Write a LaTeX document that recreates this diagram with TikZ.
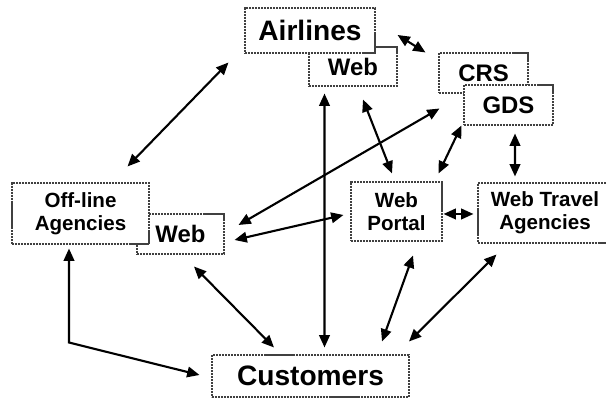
\documentclass[tikz,border=0pt]{standalone}
\usepackage{fontspec}
\setmainfont{Liberation Sans}
\usetikzlibrary{arrows.meta}

\newcommand{\labbig}{\bfseries\fontsize{16}{18}\selectfont}
\newcommand{\labmid}{\bfseries\fontsize{13.6}{15}\selectfont}
\newcommand{\labtwo}{\bfseries\fontsize{11.7}{13.1}\selectfont}

\begin{document}
\begin{tikzpicture}[
    box/.style={draw=black!75, fill=white, line width=0.6pt,
      dash pattern=on 1.2pt off 0.5pt, inner sep=0pt, align=center},
    link/.style={<->, line width=1.2pt, >={Triangle[length=7pt,width=6pt]}}
  ]

  \clip (0,0) rectangle (12.12,7.98);

  % back boxes first, the front ones cover them
  \node[box, minimum width=1.76cm, minimum height=0.78cm, font=\labmid] (airweb) at (7.06, 6.65) {Web};
  \node[box, minimum width=2.6cm, minimum height=0.9cm, font=\labbig] (air) at (6.20, 7.37) {Airlines};
  \node[box, minimum width=1.78cm, minimum height=0.8cm, font=\labmid] (crs) at (9.67, 6.52) {CRS};
  \node[box, minimum width=1.78cm, minimum height=0.8cm, font=\labmid] (gds) at (10.17, 5.88) {GDS};
  \node[box, minimum width=1.74cm, minimum height=0.8cm, font=\labmid] (offweb) at (3.61, 3.30) {Web};
  \node[box, minimum width=2.74cm, minimum height=1.22cm, font=\labtwo] (offline) at (1.61, 3.71) {Off-line\\Agencies};
  \node[box, minimum width=1.82cm, minimum height=1.18cm, font=\labtwo] (portal) at (7.93, 3.75) {Web\\Portal};
  \node[box, minimum width=2.68cm, minimum height=1.2cm, font=\labtwo] (wta) at (10.90, 3.72) {Web Travel\\Agencies};
  \node[box, minimum width=3.94cm, minimum height=0.84cm, font=\labbig] (cust) at (6.21, 0.46) {Customers};

  \draw[link] ([shift={(-0.44,0.32)}]offline.north east) -- ([shift={(-0.32,-0.18)}]air.south west);
  \draw[link] ([shift={(0.44,-0.09)}]air.east) -- ([shift={(-0.26,0)}]crs.north west);
  \draw[link] ([shift={(-0.57,-0.14)}]airweb.south) -- ([shift={(0.28,0.14)}]cust.north);
  \draw[link] ([shift={(0.20,-0.26)}]airweb.south) -- ([shift={(-0.09,0.16)}]portal.north);
  \draw[link] ([shift={(-0.04,0)}]gds.south west) -- ([shift={(-0.08,0.16)}]portal.north east);
  \draw[link] ([shift={(0.13,-0.16)}]gds.south) -- ([shift={(-0.6,0.12)}]wta.north);
  \draw[link] ([shift={(0.28,0.18)}]offweb.east) -- ([shift={(0.02,-0.30)}]crs.south west);
  \draw[link] ([shift={(0.20,-0.12)}]offweb.east) -- ([shift={(-0.14,-0.07)}]portal.west);
  \draw[link] ([shift={(0.02,-0.05)}]portal.east) -- ([shift={(-0.08,-0.02)}]wta.west);
  \draw[link] ([shift={(-0.23,-0.08)}]offline.south) -- ++(0,-1.88) -- ([shift={(-0.24,0.02)}]cust.west);
  \draw[link] ([shift={(0.27,-0.24)}]offweb.south) -- ([shift={(-0.73,0.14)}]cust.north);
  \draw[link] ([shift={(0.33,-0.28)}]portal.south) -- ([shift={(1.43,0.26)}]cust.north);
  \draw[link] ([shift={(0.38,-0.22)}]wta.south west) -- ([shift={(1.97,0.26)}]cust.north);

\end{tikzpicture}
\end{document}
